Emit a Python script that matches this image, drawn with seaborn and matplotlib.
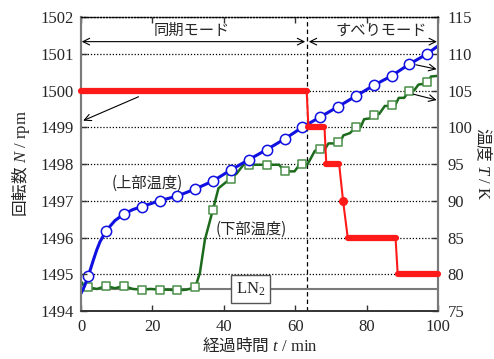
import matplotlib
matplotlib.use("Agg")
import matplotlib.pyplot as plt
import seaborn as sns

# ---------------- data ----------------
# rotation speed N [rpm] (red)
red_t = [0, 63.2, 63.7, 68.2, 68.7, 72.3, 73.4, 74.7, 88.1, 88.7, 100]
red_N = [1500, 1500, 1499, 1499, 1498, 1498, 1497, 1496, 1496, 1495, 1495]
red_plateaus = [(0, 1), (2, 3), (4, 5), (6, 6), (7, 8), (9, 10)]

# upper temperature [K] (blue)
blue_line_t = [0, 1, 2, 3.5, 4.4, 5.3, 7, 9.5, 12, 14.5, 17, 22, 27, 32, 37, 42, 47, 52, 57,
               62, 67, 72, 77, 82, 87, 92, 97, 99.8]
blue_line_T = [77.4, 78.4, 79.7, 82.0, 83.3, 84.4, 85.9, 87.3, 88.2, 88.8, 89.2, 90.0, 90.65,
               91.6, 92.7, 94.2, 95.6, 96.95, 98.4, 100.0, 101.4, 102.8, 104.25, 105.7,
               107.0, 108.6, 110.0, 111.0]
blue_mk_t = [2, 7, 12, 17, 22, 27, 32, 37, 42, 47, 52, 57, 62, 67, 72, 77, 82, 87, 92, 97]
blue_mk_T = [79.7, 85.9, 88.2, 89.2, 90.0, 90.65, 91.6, 92.7, 94.2, 95.6, 96.95, 98.4, 100.0,
             101.4, 102.8, 104.25, 105.7, 107.0, 108.6, 110.0]

# lower temperature [K] (green)
green_line_t = [0, 1, 2, 4.5, 7, 9.5, 12, 14.5, 17, 19.5, 22, 24.5, 27, 29.5, 32, 33.3, 34.7,
                36.9, 38.5, 41.8, 43.6, 45.5, 47, 52, 55.5, 57, 59.8, 61.2, 62, 63.5, 65.5,
                67, 68.3, 69.3, 71, 72, 72.6, 73.5, 75.3, 77, 78.3, 79.3, 80.8, 82, 83.5,
                85.1, 86.3, 87, 88, 89, 90.5, 92, 93.3, 94.5, 95.8, 97, 97.3, 98, 100]
green_line_T = [79.0, 78.3, 78.2, 78.0, 78.4, 78.1, 78.4, 78.0, 77.9, 78.0, 77.9, 77.9, 77.8,
                77.9, 78.2, 80.2, 84.7, 88.7, 91.7, 93.0, 93.7, 94.9, 94.9, 94.9, 94.9, 94.0,
                94.0, 94.9, 95.0, 95.0, 96.8, 97.0, 97.0, 97.8, 97.8, 98.0, 98.0, 98.9, 99.2,
                100.0, 100.0, 101.1, 101.2, 101.7, 101.8, 102.9, 102.9, 103.0, 103.0, 104.0,
                104.0, 105.0, 105.0, 105.8, 105.9, 106.2, 106.2, 106.9, 107.0]
green_mk_t = [2, 7, 12, 17, 22, 27, 32, 37, 42, 47, 52, 57, 62, 67, 72, 77, 82, 87, 92, 97]
green_mk_T = [78.2, 78.4, 78.4, 77.9, 77.9, 77.8, 78.2, 88.7, 93.0, 94.9, 94.9, 94.0, 95.0,
              97.0, 98.0, 100.0, 101.7, 103.0, 105.0, 106.2]

ln2_T = 78.0
mode_switch_t = 63.3

N_ticks = [1494, 1495, 1496, 1497, 1498, 1499, 1500, 1501, 1502]
T_ticks = [75, 80, 85, 90, 95, 100, 105, 110, 115]
t_ticks = [0, 20, 40, 60, 80, 100]

# ---------------- style ----------------
sns.set_style("ticks")
plt.rcParams['font.family'] = ['Liberation Serif', 'Noto Sans CJK JP', 'DejaVu Sans']
plt.rcParams['mathtext.fontset'] = 'custom'
plt.rcParams['mathtext.rm'] = 'Noto Sans CJK JP'
plt.rcParams['mathtext.it'] = 'Liberation Serif:italic'
plt.rcParams['mathtext.sf'] = 'Liberation Serif'
plt.rcParams['font.size'] = 12

RED = '#ff1a1a'
BLUE = '#1010e0'
GREEN = '#1c6a1c'
GREEN_MK = '#4a8f4a'
GRAY = '#7a7a7a'
JP = 'Noto Sans CJK JP'

fig = plt.figure(figsize=(4.94, 3.59), dpi=100)
ax = fig.add_axes([0.164, 0.1337, 0.7227, 0.8189])
ax2 = ax.twinx()
ax.set_zorder(ax2.get_zorder() + 1)
ax.patch.set_visible(False)

# temperature axis (below)
ax2.set_ylim(75, 115)
ax2.set_yticks(T_ticks)
ax2.yaxis.grid(True, ls=(0, (1, 1.5)), color='k', lw=0.9)
ax2.set_axisbelow(True)
ax2.axvline(mode_switch_t, color='k', ls=(0, (3.5, 2.5)), lw=0.9, zorder=1)
ax2.axhline(ln2_T, color=GRAY, lw=1.5, zorder=1.5)

sns.lineplot(x=green_line_t, y=green_line_T, ax=ax2, color=GREEN, lw=1.8,
             sort=False, estimator=None, zorder=2)
sns.scatterplot(x=green_mk_t, y=green_mk_T, ax=ax2, marker='s', s=34,
                facecolor='white', edgecolor=GREEN_MK, linewidth=1.1, zorder=3)
sns.lineplot(x=blue_line_t, y=blue_line_T, ax=ax2, color=BLUE, lw=2.2,
             sort=False, estimator=None, zorder=4)
sns.scatterplot(x=blue_mk_t, y=blue_mk_T, ax=ax2, marker='o', s=55,
                facecolor='white', edgecolor=BLUE, linewidth=1.1, zorder=5)

ax2.text(47.5, ln2_T, 'LN$_\\mathsf{2}$', ha='center', va='center', fontsize=12,
         bbox=dict(boxstyle='square,pad=0.3', fc='white', ec='#555555', lw=1.0), zorder=6)

ax2.annotate('', xy=(99.6, 107.9), xytext=(93.8, 108.5),
             arrowprops=dict(arrowstyle='->', color='k', lw=0.8, shrinkA=0, shrinkB=0))
ax2.annotate('', xy=(99.6, 103.7), xytext=(93.1, 104.5),
             arrowprops=dict(arrowstyle='->', color='k', lw=0.8, shrinkA=0, shrinkB=0))

# rpm axis (top)
ax.set_xlim(0, 100)
ax.set_ylim(1494, 1502)
ax.set_xticks(t_ticks)
ax.set_yticks(N_ticks)

sns.lineplot(x=red_t, y=red_N, ax=ax, color=RED, lw=1.5, sort=False, estimator=None, zorder=5)
for i0, i1 in red_plateaus:
    if i0 == i1:
        ax.plot([red_t[i0]], [red_N[i0]], 'o', color=RED, ms=5.5, zorder=6, clip_on=False)
    else:
        ax.plot([red_t[i0], red_t[i1]], [red_N[i0], red_N[i1]], color=RED, lw=4.5,
                solid_capstyle='round', zorder=6, clip_on=False)

ax.annotate('', xy=(0.6, 1499.18), xytext=(16.1, 1499.83),
            arrowprops=dict(arrowstyle='->', color='k', lw=0.8, shrinkA=0, shrinkB=0))
ax.annotate('', xy=(0.2, 1501.33), xytext=(62.8, 1501.33),
            arrowprops=dict(arrowstyle='<->', color='k', lw=0.8, shrinkA=0, shrinkB=0))
ax.annotate('', xy=(63.8, 1501.33), xytext=(99.7, 1501.33),
            arrowprops=dict(arrowstyle='<->', color='k', lw=0.8, shrinkA=0, shrinkB=0))
ax.text(30.9, 1501.64, '同期モード', family=JP, fontsize=11, ha='center', va='center')
ax.text(84.2, 1501.64, 'すべりモード', family=JP, fontsize=11, ha='center', va='center')
ax.text(18.5, 1497.48, '(上部温度)', family=JP, fontsize=11, ha='center', va='center')
ax.text(47.8, 1496.23, '(下部温度)', family=JP, fontsize=11, ha='center', va='center')

ax.set_xlabel('$\\mathrm{経過時間}$ $t$ / min', fontsize=12, labelpad=1)
ax.set_ylabel('$\\mathrm{回転数}$ $N$ / rpm', fontsize=12, labelpad=6)
ax2.set_ylabel('$\\mathrm{温度}$ $T$ / K', fontsize=12, rotation=270, labelpad=15)

for a in (ax, ax2):
    a.tick_params(direction='in', length=4, width=1, color='#333333', labelsize=12)
ax.tick_params(axis='x', top=True, pad=6)
ax.tick_params(axis='y', pad=5)
ax2.tick_params(axis='y', pad=7)

for a in (ax, ax2):
    a.spines['left'].set_color(GRAY)
    a.spines['right'].set_color(GRAY)
    a.spines['left'].set_linewidth(1.5)
    a.spines['right'].set_linewidth(1.5)
    a.spines['bottom'].set_color('#333333')
    a.spines['bottom'].set_linewidth(1.2)
    a.spines['top'].set_color('k')
    a.spines['top'].set_linestyle((0, (1, 1.5)))
    a.spines['top'].set_linewidth(0.9)

fig.savefig('out.png', dpi=100)
